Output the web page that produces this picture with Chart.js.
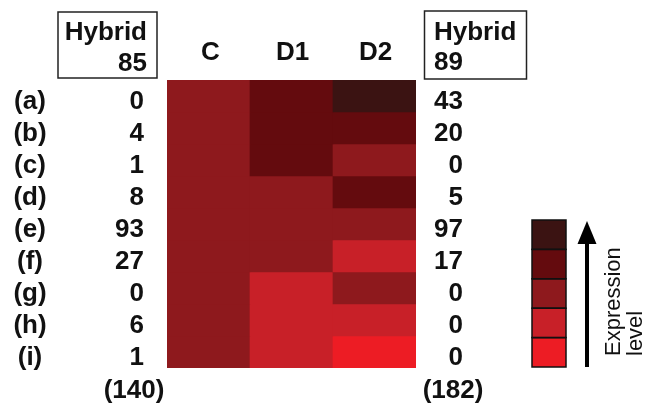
<!DOCTYPE html>
<html>
<head>
<meta charset="utf-8">
<script src="https://cdn.jsdelivr.net/npm/chart.js@4/dist/chart.umd.min.js"></script>
<style>
  html, body { margin: 0; padding: 0; background: #ffffff; }
  canvas { display: block; }
</style>
</head>
<body>
<canvas id="heat" width="648" height="406"></canvas>
<script>
// Treatments (columns) and genes (rows)
const columns = ['C', 'D1', 'D2'];
const rowLabels = ['(a)', '(b)', '(c)', '(d)', '(e)', '(f)', '(g)', '(h)', '(i)'];

// Counts per gene in each hybrid, with totals
const hybrid85 = [0, 4, 1, 8, 93, 27, 0, 6, 1];
const hybrid89 = [43, 20, 0, 5, 97, 17, 0, 0, 0];
const total85 = 140;
const total89 = 182;

// Expression level per cell (0 = lowest, 4 = highest)
const levelC  = [2, 2, 2, 2, 2, 2, 2, 2, 2];
const levelD1 = [3, 3, 3, 2, 2, 2, 1, 1, 1];
const levelD2 = [4, 3, 2, 3, 2, 1, 2, 1, 0];

// Colour ramp, lowest to highest expression
const palette = ['#ed1c24', '#c82028', '#8e191d', '#640b0e', '#3b1312'];

const levels = [levelC, levelD1, levelD2];
const FONT = '"Liberation Sans", Arial, sans-serif';

const datasets = rowLabels.map((lab, i) => ({
  label: lab,
  data: columns.map(() => 1),
  backgroundColor: columns.map((c, j) => palette[levels[j][i]]),
  borderWidth: 0,
  barPercentage: 1,
  categoryPercentage: 1,
  stack: 'cells'
}));

const sidePanels = {
  id: 'sidePanels',
  afterDraw(chart) {
    const ctx = chart.ctx;
    const xs = chart.scales.x;
    const ys = chart.scales.y;
    const rowY = i => (ys.getPixelForValue(i) + ys.getPixelForValue(i + 1)) / 2;

    ctx.save();
    ctx.fillStyle = '#111';
    ctx.strokeStyle = '#222';

    // Column headers
    ctx.font = 'bold 26px ' + FONT;
    ctx.textAlign = 'center';
    ctx.textBaseline = 'alphabetic';
    columns.forEach((c, j) => ctx.fillText(c, xs.getPixelForValue(j) + (j === 0 ? 2 : 1), 60));

    // Hybrid 85 header box
    ctx.lineWidth = 1.5;
    ctx.strokeRect(58, 12, 99, 66);
    ctx.textAlign = 'right';
    ctx.fillText('Hybrid', 147, 40);
    ctx.fillText('85', 147, 71);

    // Hybrid 89 header box
    ctx.strokeRect(424.5, 11, 102, 68);
    ctx.textAlign = 'left';
    ctx.fillText('Hybrid', 434, 40);
    ctx.fillText('89', 434, 70);

    // Row labels and counts
    rowLabels.forEach((lab, i) => {
      const y = rowY(i) + 13;
      ctx.textAlign = 'center';
      ctx.fillText(lab, 30, y);
      ctx.textAlign = 'right';
      ctx.fillText(String(hybrid85[i]), 144, y);
      ctx.fillText(String(hybrid89[i]), 463, y);
    });

    // Totals
    ctx.textAlign = 'center';
    ctx.fillText('(' + total85 + ')', 134, 398);
    ctx.fillText('(' + total89 + ')', 453, 398);

    // Colour key, highest level on top
    const kx = 532, kw = 34, ky = 220, kh = 29.4;
    for (let k = 0; k < palette.length; k++) {
      ctx.fillStyle = palette[palette.length - 1 - k];
      ctx.fillRect(kx, ky + k * kh, kw, kh);
    }
    ctx.lineWidth = 1.5;
    ctx.strokeStyle = '#111';
    for (let k = 0; k < palette.length; k++) {
      ctx.strokeRect(kx, ky + k * kh, kw, kh);
    }

    // Upward arrow
    ctx.fillStyle = '#000';
    ctx.fillRect(585, 240, 4, 127);
    ctx.beginPath();
    ctx.moveTo(587, 221);
    ctx.lineTo(596.5, 244);
    ctx.lineTo(577.5, 244);
    ctx.closePath();
    ctx.fill();

    // Rotated key caption
    ctx.save();
    ctx.translate(620, 356);
    ctx.rotate(-Math.PI / 2);
    ctx.font = '22px ' + FONT;
    ctx.textAlign = 'left';
    ctx.textBaseline = 'alphabetic';
    ctx.fillStyle = '#111';
    ctx.fillText('Expression', 0, 0);
    ctx.fillText('level', 0, 22);
    ctx.restore();

    ctx.restore();
  }
};

new Chart(document.getElementById('heat'), {
  type: 'bar',
  data: { labels: columns, datasets },
  options: {
    responsive: false,
    animation: false,
    layout: { padding: { left: 167, right: 232, top: 80, bottom: 38 } },
    plugins: { legend: { display: false }, tooltip: { enabled: false } },
    scales: {
      x: { stacked: true, display: false },
      y: { stacked: true, display: false, min: 0, max: 9, reverse: true }
    }
  },
  plugins: [sidePanels]
});
</script>
</body>
</html>
